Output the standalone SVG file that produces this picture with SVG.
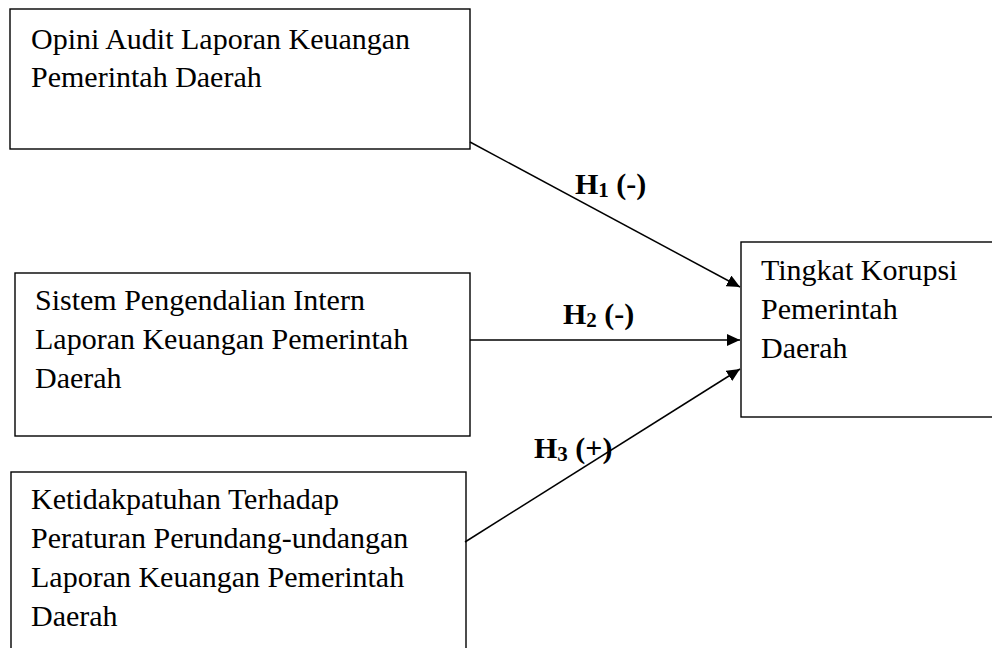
<svg xmlns="http://www.w3.org/2000/svg" width="992" height="648" viewBox="0 0 992 648">
<style>
.box{fill:#fff;stroke:#000;stroke-width:1.4}
.t{font-family:"Liberation Serif","Times New Roman",serif;font-size:30px;fill:#000}
.lbl{font-family:"Liberation Serif","Times New Roman",serif;font-size:30px;font-weight:bold;fill:#000}
.sub{font-size:21px}
.edge{stroke:#000;stroke-width:1.5;fill:none;marker-end:url(#ah)}
</style>
<defs>
<marker id="ah" markerUnits="userSpaceOnUse" markerWidth="14" markerHeight="12" refX="13" refY="6" orient="auto">
<path d="M0,0 L13,6 L0,12 Z" fill="#000"/>
</marker>
</defs>
<rect width="992" height="648" fill="#fff"/>
<g id="n1">
<rect class="box" x="10" y="9" width="460" height="140"/>
<text class="t" x="31" y="49">Opini Audit Laporan Keuangan</text>
<text class="t" x="31" y="87">Pemerintah Daerah</text>
</g>
<g id="n2">
<rect class="box" x="15" y="273" width="455" height="163"/>
<text class="t" x="35" y="310">Sistem Pengendalian Intern</text>
<text class="t" x="35" y="349">Laporan Keuangan Pemerintah</text>
<text class="t" x="35" y="388">Daerah</text>
</g>
<g id="n3">
<rect class="box" x="11" y="472" width="455" height="190"/>
<text class="t" x="31" y="509">Ketidakpatuhan Terhadap</text>
<text class="t" x="31" y="548">Peraturan Perundang-undangan</text>
<text class="t" x="31" y="587">Laporan Keuangan Pemerintah</text>
<text class="t" x="31" y="626">Daerah</text>
</g>
<g id="n4">
<rect class="box" x="741" y="242" width="270" height="175"/>
<text class="t" x="761" y="280">Tingkat Korupsi</text>
<text class="t" x="761" y="319">Pemerintah</text>
<text class="t" x="761" y="358">Daerah</text>
</g>
<g id="edges">
<line class="edge" x1="470" y1="142" x2="740" y2="287"/>
<line class="edge" x1="470" y1="340" x2="740" y2="340"/>
<line class="edge" x1="465" y1="542" x2="740" y2="369"/>
<text class="lbl" x="575" y="194">H<tspan class="sub" dy="3">1</tspan><tspan dy="-3"> (-)</tspan></text>
<text class="lbl" x="563" y="324">H<tspan class="sub" dy="3">2</tspan><tspan dy="-3"> (-)</tspan></text>
<text class="lbl" x="534" y="458">H<tspan class="sub" dy="3">3</tspan><tspan dy="-3"> (+)</tspan></text>
</g>
</svg>
